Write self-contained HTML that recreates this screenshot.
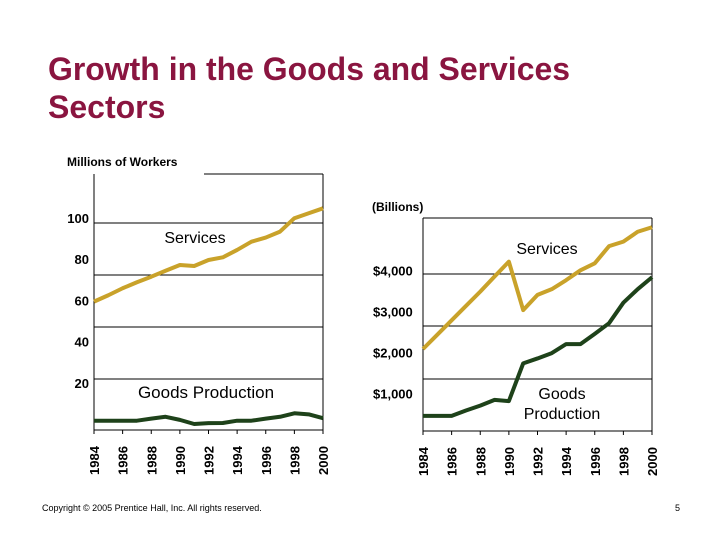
<!DOCTYPE html>
<html><head><meta charset="utf-8"><style>
body{margin:0;background:#fff;}
svg text{font-family:"Liberation Sans",Arial,sans-serif;}
</style></head><body>
<svg width="720" height="540" viewBox="0 0 720 540">
<text x="48" y="80" font-size="32" font-weight="bold" fill="#8A1540" textLength="522" lengthAdjust="spacingAndGlyphs">Growth in the Goods and Services</text>
<text x="48" y="118" font-size="32" font-weight="bold" fill="#8A1540">Sectors</text>
<g id="left"></g>
<g id="right"></g>
<text x="42" y="511" font-size="9" fill="#000">Copyright © 2005 Prentice Hall, Inc. All rights reserved.</text>
<text x="675" y="511" font-size="9" fill="#000">5</text>
</svg>
<script>
const years=[1984,1985,1986,1987,1988,1989,1990,1991,1992,1993,1994,1995,1996,1997,1998,1999,2000];
const yearTicks=[1984,1986,1988,1990,1992,1994,1996,1998,2000];
const workersServices=[59.4,62.5,65.9,68.8,71.5,74.4,77.2,76.7,79.6,80.9,84.5,88.5,90.5,93.4,99.9,102.3,104.7];
const workersGoods=[1.6,1.6,1.6,1.6,2.6,3.5,2.0,0,0.4,0.5,1.6,1.6,2.6,3.5,5.2,4.7,2.8];
const workersTicks=[100,80,60,40,20];
const outputServices=[2080,2430,2780,3130,3480,3850,4210,3030,3400,3540,3760,4000,4170,4590,4700,4940,5050];
const outputGoods=[450,450,450,580,700,840,810,1730,1850,1980,2200,2200,2450,2710,3210,3540,3830];
const outputTicks=[4000,3000,2000,1000];
const NS="http://www.w3.org/2000/svg";
function mk(p,tag,at,txt){const e=document.createElementNS(NS,tag);for(const k in at)e.setAttribute(k,at[k]);if(txt!==undefined)e.textContent=txt;p.appendChild(e);return e;}
function chart(g,cfg){
 const x=v=>cfg.x0+(v-1984)*(cfg.x1-cfg.x0)/16;
 const y=v=>cfg.yZero-v*cfg.k;
 cfg.grid.forEach(gy=>{const l=mk(g,'line',{x1:cfg.x0,x2:cfg.x1,y1:gy,y2:gy,stroke:'#000','stroke-width':1});
 
 });
 const t=mk(g,'line',{x1:cfg.topStart,x2:cfg.x1,y1:cfg.top,y2:cfg.top,stroke:'#000'});
 
 
 const r=mk(g,'line',{x1:cfg.x1,x2:cfg.x1,y1:cfg.top,y2:cfg.bottom,stroke:'#000'});
 
 
 const la=mk(g,'line',{x1:cfg.x0,x2:cfg.x0,y1:cfg.top,y2:cfg.bottom,stroke:'#000'});
 
 
 const xa=mk(g,'line',{x1:cfg.x0,x2:cfg.x1,y1:cfg.bottom,y2:cfg.bottom,stroke:'#000'});
 
 
 yearTicks.forEach(yr=>{
  const tk=mk(g,'line',{x1:x(yr),x2:x(yr),y1:cfg.bottom,y2:cfg.bottom+4,stroke:'#000'});
  
  
  const tx=mk(g,'text',{transform:`translate(${x(yr)+5},${cfg.bottom+45}) rotate(-90)`,'font-size':13,'font-weight':'bold'},String(yr));
  
  
 });
 cfg.ticks.forEach(v=>{
  const tx=mk(g,'text',{x:cfg.labelX,y:y(v)+5,'font-size':13,'font-weight':'bold','text-anchor':cfg.anchor},cfg.fmt(v));
  
  
 });
 [[cfg.serv,'#C9A22A','services-line'],[cfg.goods,'#1E421A','goods-line']].forEach(([d,c,n])=>{
  const p=mk(g,'polyline',{points:d.map((v,i)=>x(years[i])+','+y(v)).join(' '),fill:'none',stroke:c,'stroke-width':4,'stroke-linejoin':'round'});
  
  
 });
}
const L=document.getElementById('left'),R=document.getElementById('right');
chart(L,{x0:94,x1:323,top:174,topStart:204,bottom:430,grid:[223,275,327,379],yZero:424,k:2.06,ticks:workersTicks,labelX:89,anchor:'end',fmt:v=>String(v),serv:workersServices,goods:workersGoods});
chart(R,{x0:423,x1:652,top:218,topStart:423,bottom:431,grid:[274,326,379],yZero:434.3,k:0.041,ticks:outputTicks,labelX:373,anchor:'start',fmt:v=>'$'+v.toLocaleString('en-US'),serv:outputServices,goods:outputGoods});
function lab(g,x,y,s,txt,n,anchor){const t=mk(g,'text',{x:x,y:y,'font-size':s,'text-anchor':anchor||'start'},txt);
 
 return t;}
lab(L,67,166,12,'Millions of Workers','y-axis-title').setAttribute('font-weight','bold');
lab(L,195,243,16,'Services','services-label','middle');
lab(L,206,398,17,'Goods Production','goods-label','middle');
lab(R,372,211,12,'(Billions)','y-axis-title').setAttribute('font-weight','bold');
lab(R,547,254,16,'Services','services-label','middle');
lab(R,562,399,16,'Goods','goods-label-line1','middle');
lab(R,562,419,16,'Production','goods-label-line2','middle');
</script>
</body></html>
